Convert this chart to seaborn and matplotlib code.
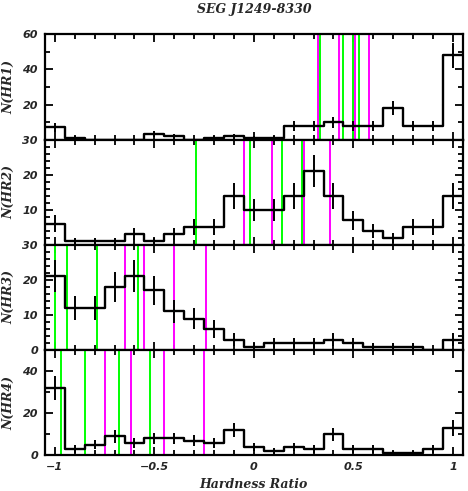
import numpy as np
import pandas as pd
import seaborn as sns
import matplotlib
matplotlib.use("Agg")
import matplotlib.pyplot as plt
from matplotlib.ticker import MultipleLocator

# ---- data ----
title = "SEG J1249-8330"
xlabel = "Hardness Ratio"
ylabels = ["N(HR1)", "N(HR2)", "N(HR3)", "N(HR4)"]
bin_centers = [-1.0, -0.9, -0.8, -0.7, -0.6, -0.5, -0.4, -0.3, -0.2, -0.1, 0.0,
               0.1, 0.2, 0.3, 0.4, 0.5, 0.6, 0.7, 0.8, 0.9, 1.0]
bin_edges = [-1.05, -0.95, -0.85, -0.75, -0.65, -0.55, -0.45, -0.35, -0.25, -0.15, -0.05,
             0.05, 0.15, 0.25, 0.35, 0.45, 0.55, 0.65, 0.75, 0.85, 0.95, 1.05]
hr1 = [7, 1, 0, 0, 0, 3, 2, 0, 1, 2, 1, 1, 8, 8, 10, 8, 8, 18, 8, 8, 48]
hr2 = [6, 1, 1, 1, 3, 1, 3, 5, 5, 14, 10, 10, 14, 21, 14, 7, 4, 2, 5, 5, 14]
hr3 = [21, 12, 12, 18, 21, 17, 11, 9, 6, 3, 1, 2, 2, 2, 3, 2, 1, 1, 1, 0, 3]
hr4 = [32, 3, 5, 9, 6, 8, 8, 7, 6, 12, 4, 2, 4, 3, 10, 3, 3, 1, 1, 3, 13]
hr1_green = [0.33, 0.45, 0.50, 0.53]
hr1_magenta = [0.32, 0.43, 0.51, 0.58]
hr2_green = [-0.29, -0.02, 0.14, 0.24]
hr2_magenta = [-0.05, 0.09, 0.25, 0.38]
hr3_green = [-1.00, -0.94, -0.79, -0.58]
hr3_magenta = [-0.65, -0.55, -0.40, -0.24]
hr4_green = [-0.97, -0.85, -0.68, -0.52]
hr4_magenta = [-0.75, -0.62, -0.45, -0.25]
ylims = [60, 30, 30, 50]
ymajor = [20, 10, 10, 20]
yminor = [10, 2, 2, 10]
xtick_values = [-1, -0.5, 0, 0.5, 1]
xtick_labels = ["\u22121", "\u22120.5", "0", "0.5", "1"]

series = [hr1, hr2, hr3, hr4]
greens = [hr1_green, hr2_green, hr3_green, hr4_green]
magentas = [hr1_magenta, hr2_magenta, hr3_magenta, hr4_magenta]

sns.set_theme(style="ticks")
plt.rcParams["font.family"] = ["DejaVu Serif"]

fig = plt.figure(figsize=(4.68, 4.91), dpi=100)
gs = fig.add_gridspec(4, 1, left=0.096, right=0.989, bottom=0.0727, top=0.930, hspace=0)
axes = [fig.add_subplot(gs[i]) for i in range(4)]

labelkw = dict(fontsize=9, fontweight="bold", fontstyle="italic", family="DejaVu Serif")
tickfont = dict(family="DejaVu Sans", weight="bold", style="italic", size=8)

for i, ax in enumerate(axes):
    counts = series[i]
    df = pd.DataFrame({"hr": bin_centers, "n": counts})
    for g in greens[i]:
        ax.axvline(g, color="#00ff00", lw=1.4, zorder=1)
    for m in magentas[i]:
        ax.axvline(m, color="#ff00ff", lw=1.4, zorder=1)
    sns.histplot(data=df, x="hr", weights="n", bins=bin_edges, element="step",
                 fill=False, color="black", linewidth=1.7, ax=ax, zorder=3)
    err = np.sqrt(np.array(counts, dtype=float))
    ax.errorbar(bin_centers, counts, yerr=err, fmt="none", ecolor="black",
                elinewidth=1.4, capsize=0, zorder=3)
    ax.set_xlim(-1.05, 1.05)
    ax.set_ylim(0, ylims[i])
    ax.xaxis.set_major_locator(MultipleLocator(0.5))
    ax.xaxis.set_minor_locator(MultipleLocator(0.1))
    ax.yaxis.set_minor_locator(MultipleLocator(yminor[i]))
    yt = list(range(0, ylims[i] + 1, ymajor[i]))
    ax.set_yticks(yt)
    # the bottom "0" of the upper two panels sits under the "30" of the next panel
    ylabs = [str(v) for v in yt]
    if i in (0, 1):
        ylabs[0] = ""
    ax.set_yticklabels(ylabs)
    ax.tick_params(which="both", direction="in", top=True, right=True,
                   width=1.3, color="black")
    ax.tick_params(which="major", length=6, pad=5)
    ax.tick_params(which="minor", length=3.5)
    for lab in ax.get_yticklabels():
        lab.set_fontproperties(tickfont)
    for sp in ax.spines.values():
        sp.set_linewidth(1.6)
        sp.set_color("black")
    ax.set_ylabel(ylabels[i], **labelkw)
    ax.yaxis.set_label_coords(-0.072, 0.5)
    ax.set_xlabel("")
    if i < 3:
        ax.tick_params(labelbottom=False)
    ax.set_facecolor("white")

axes[-1].set_xticks(xtick_values)
axes[-1].set_xticklabels(xtick_labels)
axes[-1].tick_params(axis="x", which="major", pad=5)
for lab in axes[-1].get_xticklabels():
    lab.set_fontproperties(tickfont)
axes[-1].set_xlabel(xlabel, labelpad=4, **labelkw)
fig.suptitle(title, x=0.543, y=0.993, va="top", **labelkw)

fig.savefig("out.png", dpi=100, facecolor="white")
